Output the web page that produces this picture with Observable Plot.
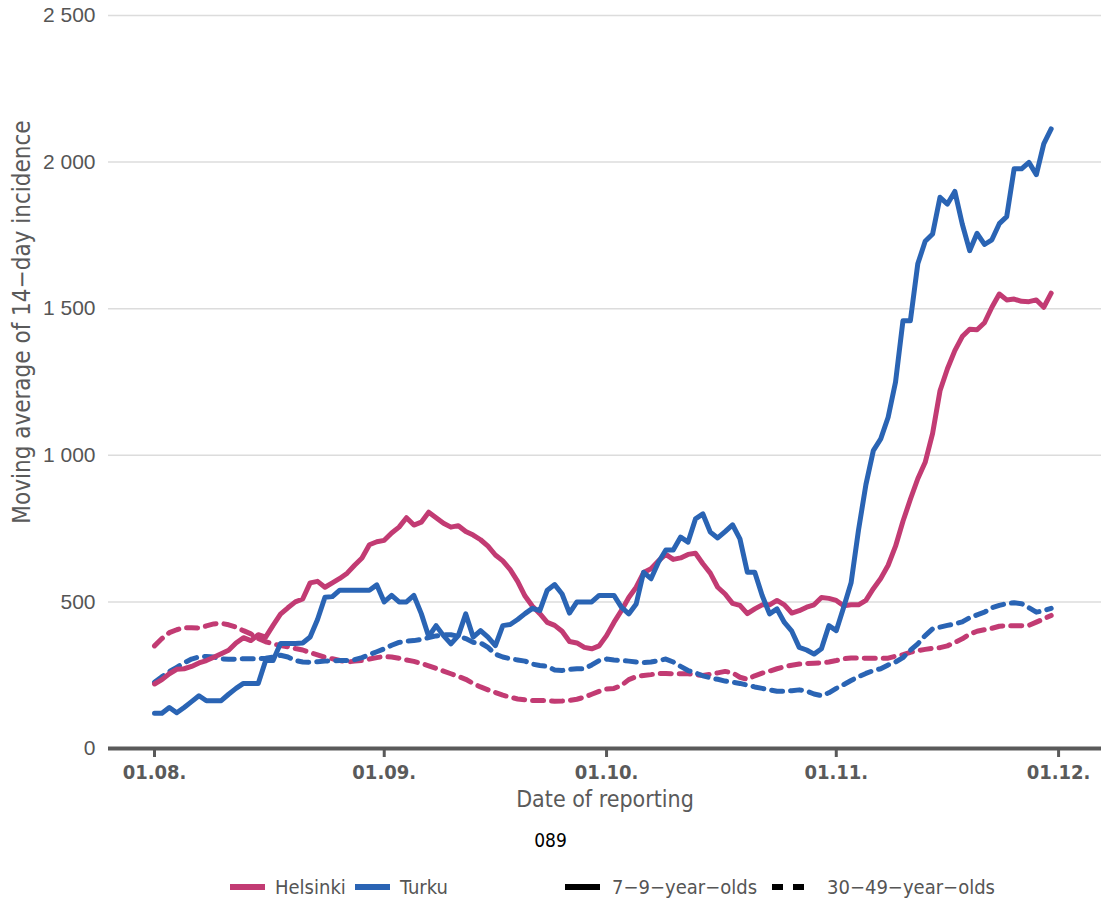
<!DOCTYPE html>
<html>
<head>
<meta charset="utf-8">
<script src="https://cdn.jsdelivr.net/npm/d3@7"></script>
<script src="https://cdn.jsdelivr.net/npm/@observablehq/plot@0.6"></script>
<style>
  body { margin: 0; background: #fff; }
  #chart { width: 1101px; height: 815px; }
  #caption { width: 1101px; text-align: center; margin-top: 15px; height: 20px; line-height: 20px;
    font-size: 19px; color: #000; }
  #legend { position: relative; width: 1101px; height: 24px; margin-top: 25px; }
  .lg-item { position: absolute; top: 0; display: flex; align-items: center; height: 24px; }
  .lg-item span { font-size: 20px; color: #555; margin-left: 10px; white-space: nowrap; }
</style>
</head>
<body>
<div id="chart"></div>
<div id="caption"></div>
<div id="legend"></div>
<script>
const NARROW = '"Liberation Sans Narrow", "Arial Narrow", "DejaVu Sans Condensed", "Roboto Condensed", Roboto, sans-serif';
const REGULAR = '"Liberation Sans", Arial, sans-serif';

// ---- data ----
const cities = ["Helsinki", "Turku"];
const cityColors = ["#c23b73", "#2a64b4"];
const ageGroups = ["7\u22129\u2212year\u2212olds", "30\u221249\u2212year\u2212olds"];
const yTicks = [0, 500, 1000, 1500, 2000, 2500];
const monthTicks = ["2021-08-01", "2021-09-01", "2021-10-01", "2021-11-01", "2021-12-01"];
const xTitle = "Date of reporting";
const yTitle = "Moving average of 14\u2212day incidence";
const captionText = "089";

// daily dates 01.08.2021 .. 30.11.2021
const dates = d3.utcDay.range(new Date(Date.UTC(2021, 7, 1)), new Date(Date.UTC(2021, 11, 1)));

const helsinkiKids = [
  220,235,255,270,272,280,292,300,311,323,
  335,360,378,368,388,380,420,458,480,500,
  510,565,570,550,565,580,598,625,650,695,
  705,710,735,755,787,762,772,806,787,768,
  755,760,740,728,712,690,660,640,610,570,
  520,485,460,430,420,400,365,360,345,340,
  350,385,430,470,515,550,600,613,640,662,
  645,650,662,666,630,598,550,527,495,488,
  460,476,490,490,505,490,462,470,482,490,
  515,512,505,487,490,490,505,545,580,625,
  690,775,850,920,976,1075,1220,1295,1357,1405,
  1430,1428,1452,1505,1550,1530,1533,1525,1524,1530,
  1505,1553
];
const turkuKids = [
  120,120,140,122,140,160,180,163,163,163,
  185,205,222,222,222,300,300,358,358,358,
  360,380,440,516,518,540,540,540,540,540,
  558,500,522,500,500,522,460,382,419,385,
  357,385,459,380,402,380,351,419,423,440,
  460,478,470,540,559,527,462,500,500,500,
  522,522,522,482,459,493,601,579,635,677,
  677,721,704,783,800,738,718,740,763,715,
  601,601,522,459,476,430,400,345,336,322,
  340,419,402,482,565,745,900,1016,1056,1130,
  1250,1459,1459,1653,1730,1755,1880,1857,1900,1789,
  1698,1757,1719,1735,1790,1814,1977,1977,1999,1957,
  2062,2113
];
const helsinkiAdults = [
  350,375,395,405,412,412,411,418,425,427,
  422,414,402,391,375,364,357,351,347,341,
  336,327,319,311,306,300,295,298,300,305,
  310,314,312,308,302,297,290,282,273,264,
  255,246,236,222,210,200,191,182,175,169,
  166,164,164,163,161,162,164,168,175,185,
  195,203,205,215,235,245,249,252,256,256,
  255,255,255,252,249,253,258,263,258,243,
  236,248,257,264,272,279,284,288,290,291,
  292,295,300,306,309,309,308,308,308,308,
  315,320,328,334,338,342,344,350,362,374,
  390,400,405,410,417,419,419,419,420,431,
  442,454
];
const turkuAdults = [
  226,245,262,277,292,305,312,314,312,306,
  304,305,306,306,306,308,312,318,312,300,
  295,294,296,298,299,300,300,303,310,320,
  330,340,352,362,366,368,372,378,384,388,
  388,383,375,362,360,345,322,312,306,302,
  298,288,283,280,268,266,270,272,272,285,
  300,305,302,300,298,295,293,295,300,305,
  295,280,266,258,248,241,236,230,226,222,
  216,210,205,200,195,195,197,200,196,186,
  180,190,205,218,232,245,256,266,272,285,
  295,310,335,357,385,408,414,420,425,432,
  446,456,465,480,488,494,497,494,480,465,
  470,478
];

// ---- build tables ----
function rows(values, city, age) {
  return values.map((v, i) => ({date: dates[i], value: v, city, age}));
}
const kids = [...rows(helsinkiKids, cities[0], ageGroups[0]), ...rows(turkuKids, cities[1], ageGroups[0])];
const adults = [...rows(helsinkiAdults, cities[0], ageGroups[1]), ...rows(turkuAdults, cities[1], ageGroups[1])];

const fmt = d => d3.format(",")(d).replace(/,/g, " ");
const monthDates = monthTicks.map(s => new Date(s + "T00:00:00Z"));

const chart = Plot.plot({
  width: 1101,
  height: 815,
  marginLeft: 108,
  marginRight: 0,
  marginTop: 15,
  marginBottom: 67,
  style: {fontFamily: NARROW, background: "transparent", overflow: "visible"},
  x: {type: "utc", domain: [new Date(Date.UTC(2021, 6, 25, 19)), new Date(Date.UTC(2021, 11, 6, 19))], axis: null},
  y: {domain: [0, 2500], axis: null},
  color: {domain: cities, range: cityColors},
  marks: [
    Plot.gridY(yTicks.filter(d => d > 0), {stroke: "#dcdcdc", strokeOpacity: 1, strokeWidth: 1.5}),
    Plot.axisY(yTicks, {tickSize: 0, tickPadding: 13, fontSize: 21, fill: "#555",
      fontFamily: REGULAR, tickFormat: fmt, label: null}),
    Plot.ruleY([0], {stroke: "#5a5a5a", strokeWidth: 4}),
    Plot.axisX(monthDates, {tickSize: 9, strokeWidth: 3, stroke: "#5a5a5a", tickPadding: 7,
      fontSize: 20, fontWeight: "bold", fill: "#5a5a5a", fontFamily: NARROW,
      tickFormat: d3.utcFormat("%d.%m."), label: null}),
    Plot.line(adults, {x: "date", y: "value", z: "city", stroke: "city", strokeWidth: 5,
      strokeDasharray: "11,8", strokeLinejoin: "round"}),
    Plot.line(kids, {x: "date", y: "value", z: "city", stroke: "city", strokeWidth: 5,
      strokeLinejoin: "round"}),
    Plot.text([xTitle], {text: d => d, frameAnchor: "bottom", dy: 58, fontSize: 23,
      fill: "#5a5a5a", fontFamily: NARROW}),
    Plot.text([yTitle], {text: d => d, frameAnchor: "left", textAnchor: "middle", rotate: -90,
      dx: -86, dy: -60, fontSize: 24, fill: "#5a5a5a", fontFamily: NARROW})
  ]
});
document.getElementById("chart").appendChild(chart);

// caption
const cap = document.getElementById("caption");
cap.textContent = captionText;
cap.style.fontFamily = NARROW;

// legend
const legend = d3.select("#legend").style("font-family", NARROW);
function addItem(left, color, dashed, label, gap) {
  const item = legend.append("div").attr("class", "lg-item").style("left", left + "px");
  const svg = item.append("svg").attr("width", 35).attr("height", 10);
  svg.append("line").attr("x1", 0).attr("x2", 35).attr("y1", 5).attr("y2", 5)
    .attr("stroke", color).attr("stroke-width", 6)
    .attr("stroke-dasharray", dashed ? "11,10" : null);
  item.append("span").style("margin-left", gap + "px").text(label);
}
addItem(230, cityColors[0], false, cities[0], 10);
addItem(355, cityColors[1], false, cities[1], 10);
addItem(565, "#000", false, ageGroups[0], 12);
addItem(772, "#000", true, ageGroups[1], 20);
</script>
</body>
</html>
